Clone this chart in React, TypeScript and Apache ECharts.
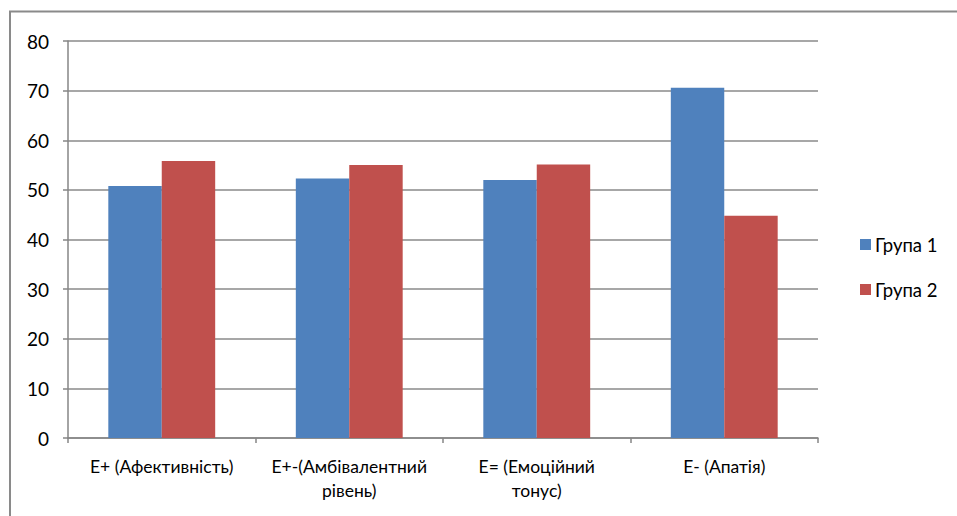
import React, { useEffect, useRef } from "react";
import * as echarts from "echarts";

const categories = [
  "E+ (Афективність)",
  "E+-(Амбівалентний\nрівень)",
  "E= (Емоційний\nтонус)",
  "E- (Апатія)",
];
const seriesNames = ["Група 1", "Група 2"];
const group1 = [50.8, 52.3, 52.0, 70.6];
const group2 = [55.8, 55.0, 55.1, 44.8];
const yTicks = { min: 0, max: 80, interval: 10 };

const FONT = "Lato";

export default function App() {
  const ref = useRef<HTMLDivElement>(null);
  useEffect(() => {
    document.body.style.margin = "0";
    const chart = echarts.init(ref.current!, null, { renderer: "svg" });
    chart.setOption({
      animation: false,
      backgroundColor: "#ffffff",
      textStyle: { fontFamily: FONT },
      graphic: [
        {
          type: "rect",
          shape: { x: 10, y: 11.5, width: 980, height: 540 },
          style: { fill: "none", stroke: "#8a8a8a", lineWidth: 2 },
          silent: true,
        },
      ],
      grid: { left: 68, right: 139, top: 41, bottom: 78, containLabel: false },
      legend: {
        orient: "vertical",
        left: 860,
        top: 235,
        padding: 0,
        itemWidth: 11,
        itemHeight: 11,
        itemGap: 26,
        icon: "rect",
        textStyle: { fontFamily: FONT, fontSize: 18.5, color: "#000", lineHeight: 18, padding: [0, 0, 0, -1] },
        data: seriesNames,
      },
      xAxis: {
        type: "category",
        data: categories,
        boundaryGap: true,
        axisLine: { lineStyle: { color: "#868686", width: 1.5 } },
        axisTick: { show: true, length: 5, alignWithLabel: false, lineStyle: { color: "#868686", width: 1.5 } },
        axisLabel: {
          interval: 0,
          margin: 16,
          fontFamily: FONT,
          fontSize: 17.5,
          color: "#000",
          lineHeight: 24,
          align: "center",
        },
      },
      yAxis: {
        type: "value",
        min: yTicks.min,
        max: yTicks.max,
        interval: yTicks.interval,
        axisLine: { show: true, lineStyle: { color: "#868686", width: 1.5 } },
        axisTick: { show: true, length: 5, lineStyle: { color: "#868686", width: 1.5 } },
        splitLine: { show: true, lineStyle: { color: "#8a8a8a", width: 1.5 } },
        axisLabel: { margin: 19, fontFamily: FONT, fontSize: 19, color: "#000" },
      },
      series: [
        {
          name: seriesNames[0],
          type: "bar",
          data: group1,
          barGap: "0%",
          barCategoryGap: "43%",
          itemStyle: { color: "#4F81BD" },
        },
        {
          name: seriesNames[1],
          type: "bar",
          data: group2,
          barGap: "0%",
          barCategoryGap: "43%",
          itemStyle: { color: "#C0504D" },
        },
      ],
    });
    return () => chart.dispose();
  }, []);
  return (
    <div
      ref={ref}
      style={{ position: "absolute", left: 0, top: 0, width: 957, height: 516 }}
    />
  );
}
